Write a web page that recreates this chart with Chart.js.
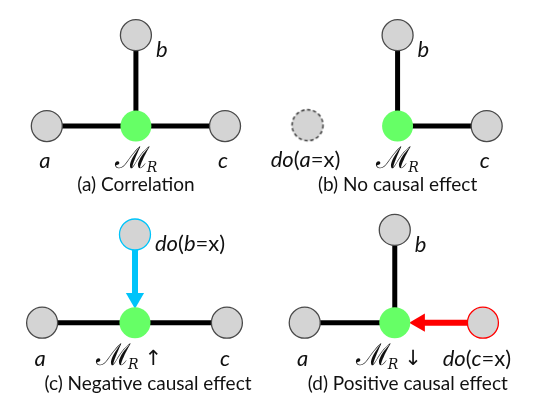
<!DOCTYPE html>
<html>
<head>
<meta charset="utf-8">
<script src="https://cdn.jsdelivr.net/npm/chart.js@4"></script>
<style>
  body { margin: 0; background: #fff; }
  canvas { display: block; }
</style>
</head>
<body>
<canvas id="myChart" width="541" height="413"></canvas>
<script>
// captions of the 4 panels
const panelCaptions = ['(a) Correlation', '(b) No causal effect', '(c) Negative causal effect', '(d) Positive causal effect'];
// nodes, same order in every panel: a, b, M_R, c
const nodeNames = ['a', 'b', 'M', 'c'];
const nodeX = [[32, 127, 127, 222], [310, 406, 406, 501], [27, 126, 126, 224], [307, 403, 403, 497]];
const nodeY = [[119, 20, 119, 119], [118, 20, 119, 119], [333, 237, 333, 333], [333, 232, 333, 333]];
// edges still present in each panel
const panelEdges = [
  [['a', 'M'], ['b', 'M'], ['M', 'c']],
  [['b', 'M'], ['M', 'c']],
  [['a', 'M'], ['M', 'c']],
  [['a', 'M'], ['b', 'M']]
];
// node set by do(...) in each panel, and what happens to M_R
const intervened = [null, 'a', 'b', 'c'];
const effects = ['', '', '↑', '↓'];

// styles
const GREY = '#d4d4d4', EDGE = '#4a4a4a', GREEN = '#66ff66';
const CYAN = '#00c4fa', RED = '#ff0000';
const NODE_R = 15.5, HEAD_R = 10.5;
const FONT = 'Lato, "Open Sans", sans-serif';

const idx = n => nodeNames.indexOf(n);
const pt = (p, n) => ({ x: nodeX[p][idx(n)], y: nodeY[p][idx(n)] });

// dashed circle used as point style for the removed node
const dashed = document.createElement('canvas');
dashed.width = 36; dashed.height = 36;
{
  const c = dashed.getContext('2d');
  c.beginPath();
  c.arc(18, 18, NODE_R, 0, Math.PI * 2);
  c.fillStyle = GREY;
  c.fill();
  c.setLineDash([3.5, 2.5]);
  c.lineWidth = 1.4;
  c.strokeStyle = '#333';
  c.stroke();
}

const datasets = [];

panelCaptions.forEach((cap, p) => {
  // edges
  panelEdges[p].forEach(e => {
    datasets.push({
      data: [pt(p, e[0]), pt(p, e[1])],
      showLine: true, borderColor: '#000', borderWidth: 5,
      pointRadius: 0, order: 3
    });
  });

  // intervention arrow (do on b or c)
  const iv = intervened[p];
  let arrowColor = null;
  if (iv === 'b' || iv === 'c') {
    arrowColor = iv === 'b' ? CYAN : RED;
    const s = pt(p, iv), m = pt(p, 'M');
    const dx = s.x - m.x, dy = s.y - m.y, len = Math.hypot(dx, dy);
    const off = NODE_R + HEAD_R + 0.5;
    const head = { x: m.x + dx / len * off, y: m.y + dy / len * off };
    const rot = Math.atan2(-dx, dy) * 180 / Math.PI; // triangle points from source to M
    datasets.push({
      data: [s, head],
      showLine: true, borderColor: arrowColor, borderWidth: 6,
      pointRadius: 0, order: 2
    });
    datasets.push({
      data: [head],
      pointStyle: 'triangle', pointRadius: HEAD_R, rotation: rot,
      backgroundColor: arrowColor, borderColor: arrowColor, borderWidth: 0,
      order: 2
    });
  }

  // nodes
  datasets.push({
    data: nodeNames.map(n => pt(p, n)),
    pointRadius: NODE_R,
    pointStyle: nodeNames.map(n => (n === iv && iv === 'a') ? dashed : 'circle'),
    backgroundColor: nodeNames.map(n => n === 'M' ? GREEN : GREY),
    borderColor: nodeNames.map(n => n === 'M' ? GREEN : (n === iv && arrowColor ? arrowColor : EDGE)),
    borderWidth: nodeNames.map(n => n === 'M' ? 0 : 1.3),
    order: 1
  });
});

// draws a row of text pieces (some italic) starting at x, or centred on x
function drawRuns(ctx, runs, x, y, align) {
  let w = 0;
  runs.forEach(r => { ctx.font = r.f; r.w = ctx.measureText(r.t).width + (r.gap || 0); w += r.w; });
  let cx = align === 'center' ? x - w / 2 : x;
  runs.forEach(r => {
    ctx.font = r.f;
    ctx.fillText(r.t, cx + (r.gap || 0), y + (r.dy || 0));
    cx += r.w;
  });
}

const it = s => ({ t: s, f: 'italic 22px ' + FONT });
const up = s => ({ t: s, f: '22px ' + FONT });

const labelPlugin = {
  id: 'labels',
  afterDatasetsDraw(chart) {
    const { ctx } = chart;
    const sx = chart.scales.x, sy = chart.scales.y;
    ctx.save();
    ctx.fillStyle = '#111';
    ctx.textBaseline = 'alphabetic';
    ctx.textAlign = 'left';
    panelCaptions.forEach((cap, p) => {
      const iv = intervened[p];
      nodeNames.forEach(n => {
        const q = pt(p, n);
        const x = sx.getPixelForValue(q.x), y = sy.getPixelForValue(q.y);
        if (n === 'M') {
          const runs = [
            { t: 'ℳ', f: '30px "DejaVu Serif", serif' },
            { t: 'R', f: 'italic 14px "DejaVu Serif", serif', dy: 4, gap: -3 }
          ];
          if (effects[p]) runs.push({ t: effects[p], f: '21px "DejaVu Sans", sans-serif', gap: 6 });
          drawRuns(ctx, runs, effects[p] ? x - 6 : x, y + 42, 'center');
          // caption under M_R
          ctx.font = '19px ' + FONT;
          ctx.textAlign = 'center';
          ctx.fillText(cap, x + (p > 1 ? 13 : 0), y + (p > 1 ? 67 : 65));
          ctx.textAlign = 'left';
        } else {
          const runs = n === iv ? [it('do'), up('('), it(n), up('=x)')] : [it(n)];
          if (n === 'b') drawRuns(ctx, runs, x + 20, y + (n === iv ? 16 : 22), 'left');
          else drawRuns(ctx, runs, x + (n === iv && n === 'c' ? -6 : -2), y + (p > 1 ? 43 : 42), 'center');
        }
      });
    });
    ctx.restore();
  }
};

const ctx = document.getElementById('myChart');
new Chart(ctx, {
  type: 'scatter',
  data: { datasets },
  options: {
    responsive: false,
    animation: false,
    events: [],
    layout: { padding: 0 },
    scales: {
      x: { type: 'linear', min: 0, max: 541, display: false },
      y: { type: 'linear', min: 0, max: 413, reverse: true, display: false }
    },
    plugins: { legend: { display: false }, tooltip: { enabled: false } }
  },
  plugins: [labelPlugin]
});
</script>
</body>
</html>
